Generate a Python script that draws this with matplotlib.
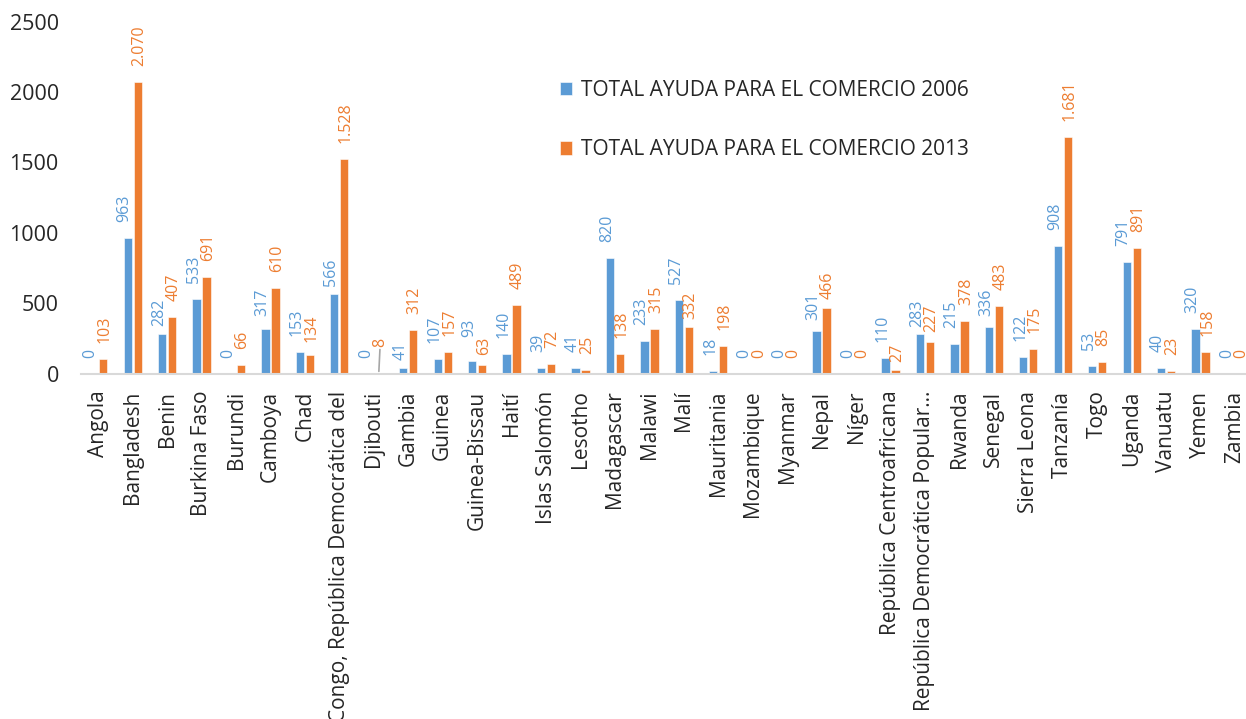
import numpy as np
import matplotlib
matplotlib.use("Agg")
import matplotlib.pyplot as plt

plt.rcParams['font.family'] = ['Open Sans', 'DejaVu Sans']

# data
countries = ["Angola", "Bangladesh", "Benin", "Burkina Faso", "Burundi", "Camboya", "Chad",
             "Congo, República Democrática del", "Djibouti", "Gambia", "Guinea", "Guinea-Bissau",
             "Haití", "Islas Salomón", "Lesotho", "Madagascar", "Malawi", "Malí", "Mauritania",
             "Mozambique", "Myanmar", "Nepal", "Níger", "República Centroafricana",
             "República Democrática Popular…", "Rwanda", "Senegal", "Sierra Leona", "Tanzanía",
             "Togo", "Uganda", "Vanuatu", "Yemen", "Zambia"]
ayuda_2006 = [0, 963, 282, 533, 0, 317, 153, 566, 0, 41, 107, 93, 140, 39, 41, 820, 233, 527, 18,
              0, 0, 301, 0, 110, 283, 215, 336, 122, 908, 53, 791, 40, 320, 0]
ayuda_2013 = [103, 2070, 407, 691, 66, 610, 134, 1528, 8, 312, 157, 63, 489, 72, 25, 138, 315, 332, 198,
              0, 0, 466, 0, 27, 227, 378, 483, 175, 1681, 85, 891, 23, 158, 0]
series_names = ["TOTAL AYUDA PARA EL COMERCIO 2006", "TOTAL AYUDA PARA EL COMERCIO 2013"]

blue = "#5B9BD5"
orange = "#ED7D31"

# label gaps (pixels above the bar) where the source moved a label away from the default
gap_default = 16
gap_2006 = {"Benin": 8, "Congo, República Democrática del": 8, "Gambia": 8, "Guinea-Bissau": 24,
            "República Democrática Popular…": 7, "Nepal": 11, "Senegal": 11, "Camboya": 13}
gap_2013 = {"Malí": 8, "Guinea-Bissau": 10, "Chad": 13, "República Centroafricana": 8,
            "República Democrática Popular…": 10, "Nepal": 9}

def fmt(v):
    return f"{v:,}".replace(",", ".")  # spanish thousands separator

fig = plt.figure(figsize=(12.46, 7.19), dpi=100)
ax = fig.add_axes([0.065, 0.48, 0.94, 0.49])

x = np.arange(len(countries))
w = 0.24
off = 0.145
b1 = ax.bar(x - off, ayuda_2006, w, color=blue, edgecolor="white", linewidth=0.4, label=series_names[0])
b2 = ax.bar(x + off, ayuda_2013, w, color=orange, edgecolor="white", linewidth=0.4, label=series_names[1])

lab_size = 11.5
for xi, v, name in zip(x - off, ayuda_2006, countries):
    ax.annotate(fmt(v), (xi, v), xytext=(-3, gap_2006.get(name, gap_default)), textcoords="offset pixels",
                rotation=90, ha="center", va="bottom", color=blue, fontsize=lab_size)
for xi, v, name in zip(x + off, ayuda_2013, countries):
    if name == "Djibouti":
        # label pushed up with a grey leader line, as in the source
        ax.annotate(fmt(v), (xi, v), xytext=(1.5, 26), textcoords="offset pixels", rotation=90,
                    ha="center", va="bottom", color=orange, fontsize=lab_size,
                    arrowprops=dict(arrowstyle="-", color="#A6A6A6", lw=1.2, shrinkA=0, shrinkB=1))
    else:
        ax.annotate(fmt(v), (xi, v), xytext=(1.5, gap_2013.get(name, gap_default)), textcoords="offset pixels",
                    rotation=90, ha="center", va="bottom", color=orange, fontsize=lab_size)

ax.set_ylim(0, 2500)
ax.set_xlim(-0.5, len(countries) - 0.5)
ax.set_yticks([0, 500, 1000, 1500, 2000, 2500])
ax.set_xticks(x)
ax.set_xticklabels(countries, rotation=90, fontsize=15, color="#262626")
ax.tick_params(axis="y", length=0, labelsize=15.5, labelcolor="#262626", pad=16)
ax.tick_params(axis="x", length=0, pad=12)
for s in ["top", "right", "left"]:
    ax.spines[s].set_visible(False)
ax.spines["bottom"].set_color("#D9D9D9")
ax.spines["bottom"].set_linewidth(1.5)

fig.legend(handles=[b1, b2], loc="upper left", bbox_to_anchor=(0.434, 0.915), frameon=False,
           fontsize=15, labelspacing=1.85, handlelength=0.6, handleheight=0.6, handletextpad=0.45,
           labelcolor="#262626")

fig.savefig("out.png", dpi=100)
